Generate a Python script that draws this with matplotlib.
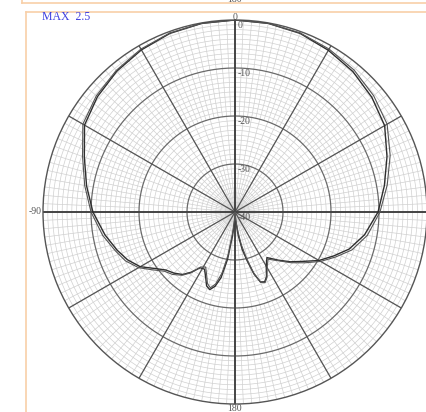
import numpy as np
import matplotlib.pyplot as plt
from matplotlib.lines import Line2D

# measured radiation pattern, degrees clockwise from top, level in dB
angle_deg = [-180, -177, -174, -171, -168, -165, -162, -159, -156, -152, -148, -144,
             -140, -135, -130, -125, -120, -114, -108, -100, -90, -80, -70, -60,
             -50, -40, -30, -20, -10, 0, 10, 20, 30, 40, 50, 60, 70, 80, 90, 100,
             108, 114, 120, 126, 132, 138, 145, 150, 154, 157, 160, 163, 166, 169,
             172, 175, 178, 180]
level_a = [-40, -38, -35, -30, -26, -24, -23, -23.5, -25, -26.5, -26.3, -24.5,
           -23, -22, -21.2, -19.5, -17.2, -15.5, -14.2, -12.5, -10.4, -8.6, -6.6, -3.8,
           -2.6, -1.7, -1.0, -0.4, -0.1, 0, -0.1, -0.4, -1.1, -1.8, -2.8, -4.0, -6.3, -8.4, -10.2, -12.6,
           -15.0, -17.5, -19.8, -22.5, -24.5, -26.5, -28.4, -27, -25, -24.2, -24.5, -26.5, -29.5, -32,
           -35, -38, -39.5, -40]
level_b = [-40, -38.5, -36, -31, -27, -24.5, -23.4, -24, -25.5, -27, -26.5, -24.3,
           -22.8, -21.6, -20.8, -19, -16.8, -15, -13.8, -12.0, -10.0, -8.2, -6.2, -3.4,
           -2.3, -1.5, -0.8, -0.3, -0.1, 0, -0.1, -0.3, -0.8, -1.4, -2.3, -3.4, -5.6, -7.8, -9.8, -12.0,
           -14.4, -17.0, -19.4, -22.0, -24.2, -26.3, -28.0, -26.6, -24.8, -24.0, -24.4, -26.8, -30, -33,
           -36, -38.5, -39.7, -40]

ring_values = [0, -10, -20, -30, -40]
ring_labels = ['0', '-10', '-20', '-30', '-40']
spoke_angles = list(range(0, 360, 30))

serif = ['Liberation Serif', 'DejaVu Serif']

fig = plt.figure(figsize=(4.26, 4.12), dpi=100)
cx, cy, rad = 235, 212, 192
ax = fig.add_axes([(cx - rad) / 426, (412 - cy - rad) / 412, 2 * rad / 426, 2 * rad / 412],
                  projection='polar')
ax.set_theta_zero_location('N')
ax.set_theta_direction(-1)
ax.set_ylim(-40, 0)
ax.grid(False)
ax.set_xticks([])
ax.set_yticks([])
ax.spines['polar'].set_color('#555555')
ax.spines['polar'].set_linewidth(1.0)

full = np.linspace(0, 2 * np.pi, 400)
fine = '#d0d0d0'
# fine rings every dB
for d in range(-39, 0):
    if d % 10:
        ax.plot(full, np.full_like(full, d), color=fine, lw=0.5, zorder=1)
# fine radials
for a in np.arange(0, 360, 5):
    ax.plot([np.radians(a)] * 2, [-40, 0], color=fine, lw=0.5, zorder=1)
for a in np.arange(2.5, 360, 5):
    ax.plot([np.radians(a)] * 2, [-20, 0], color=fine, lw=0.5, zorder=1)
# main rings and spokes
for d in [-10, -20, -30]:
    ax.plot(full, np.full_like(full, d), color='#6a6a6a', lw=0.9, zorder=2)
for a in spoke_angles:
    if a % 90:
        ax.plot([np.radians(a)] * 2, [-40, 0], color='#555555', lw=0.9, zorder=2)
for a in [0, 90, 180, 270]:
    ax.plot([np.radians(a)] * 2, [-40, 0], color='#444444', lw=1.4, zorder=2)

th = np.radians(angle_deg)
ax.plot(th, level_a, color='#2e2e2e', lw=1.0, zorder=4)
ax.plot(th, level_b, color='#555555', lw=0.8, zorder=4)

for v, lbl in zip(ring_values, ring_labels):
    ax.annotate(lbl, xy=(0, v), xytext=(2, -1), textcoords='offset points',
                ha='left', va='top', fontsize=7, family=serif, color='#555555', zorder=5)

ax.annotate('0', xy=(0, 0), xytext=(0, 2), textcoords='offset points',
            ha='center', va='center', fontsize=7, family=serif, color='#555555',
            annotation_clip=False)
ax.annotate('180', xy=(np.pi, 0), xytext=(0, -3), textcoords='offset points',
            ha='center', va='center', fontsize=7, family=serif, color='#555555',
            annotation_clip=False)
ax.annotate('-90', xy=(-np.pi / 2, 0), xytext=(-1, 0), textcoords='offset points',
            ha='right', va='center', fontsize=7, family=serif, color='#555555',
            annotation_clip=False)

# page frames
border = '#f8cfa8'
fig.add_artist(Line2D([22 / 426, 1], [1 - 3 / 412] * 2, color=border, lw=1.2))
fig.add_artist(Line2D([22 / 426] * 2, [1 - 3 / 412, 1], color=border, lw=1.2))
fig.add_artist(Line2D([25.5 / 426, 1], [1 - 12 / 412] * 2, color=border, lw=1.2))
fig.add_artist(Line2D([25.5 / 426] * 2, [0, 1 - 12 / 412], color=border, lw=1.2))
fig.text(cx / 426, 1 - 2 / 412, '180', ha='center', va='baseline', fontsize=7,
         family=serif, color='#555555')
fig.text(42 / 426, 1 - 17 / 412, 'MAX  2.5', ha='left', va='center', fontsize=8.5,
         family=serif, color='#3d3de0')

fig.savefig('out.png', dpi=100)
